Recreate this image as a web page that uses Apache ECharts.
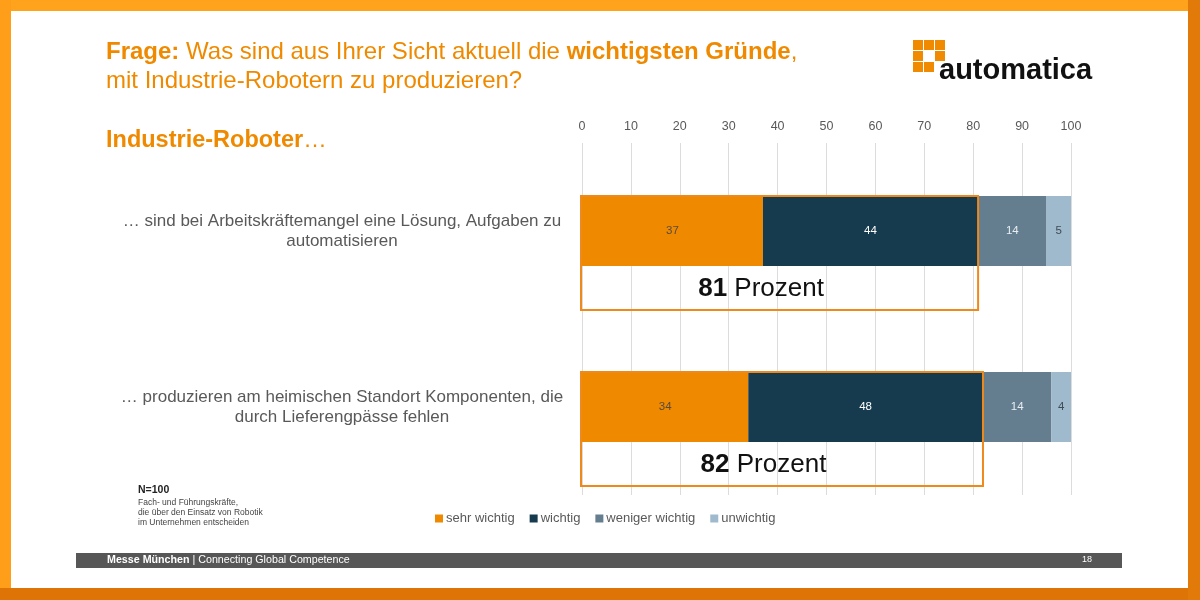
<!DOCTYPE html>
<html><head><meta charset="utf-8">
<script src="https://cdn.jsdelivr.net/npm/echarts@6/dist/echarts.min.js"></script>
<style>html,body{margin:0;padding:0;background:#fff}#c{width:1200px;height:600px}</style>
</head><body><div id="c"></div>
<script>
const categories = [
  '… sind bei Arbeitskräftemangel eine Lösung, Aufgaben zu\nautomatisieren',
  '… produzieren am heimischen Standort Komponenten, die\ndurch Lieferengpässe fehlen'
];
const seriesNames = ['sehr wichtig', 'wichtig', 'weniger wichtig', 'unwichtig'];
const sehrWichtig = [37, 34];
const wichtig = [44, 48];
const wenigerWichtig = [14, 14];
const unwichtig = [5, 4];
const topTwo = [81, 82];
const xTicks = [0, 10, 20, 30, 40, 50, 60, 70, 80, 90, 100];

const colors = ['#EF8A00', '#173B4E', '#647E8F', '#9FBACD'];
const labelColors = ['#5a4a3a', '#ffffff', '#e8eef2', '#3f4b55'];
const values = [sehrWichtig, wichtig, wenigerWichtig, unwichtig];
const FONT = '"Liberation Sans", Arial, sans-serif';

const chart = echarts.init(document.getElementById('c'), null, {renderer: 'canvas'});

const barSeries = seriesNames.map((n, i) => ({
  name: n, type: 'bar', stack: 'total', barWidth: 70,
  data: values[i],
  itemStyle: {color: colors[i]},
  label: {show: true, position: 'inside', color: labelColors[i], fontSize: 11.5, fontFamily: FONT},
  z: 2
}));

const boxSeries = {
  type: 'custom', name: 'box', z: 5,
  data: topTwo.map((v, i) => [v, i]),
  encode: {x: 0, y: 1},
  renderItem: function (params, api) {
    const total = api.value(0), idx = api.value(1);
    const p0 = api.coord([0, idx]);
    const p1 = api.coord([total, idx]);
    const barH = 70;
    const top = p0[1] - barH / 2;
    const h = barH + 44;
    return {
      type: 'group', children: [
        {type: 'rect', shape: {x: p0[0] - 1, y: top, width: p1[0] - p0[0] + 1, height: h},
          style: {fill: 'none', stroke: '#EE8A1C', lineWidth: 2}},
        {type: 'text', x: (p0[0] + p1[0]) / 2 - 19, y: p0[1] + barH / 2 + 23,
          style: {text: '{b|' + total + '} Prozent', align: 'center', verticalAlign: 'middle',
            fontSize: 26, fontFamily: FONT, fill: '#111',
            rich: {b: {fontSize: 26, fontWeight: 'bold', fontFamily: FONT, fill: '#111'}}}}
      ]
    };
  }
};

const option = {
  animation: false,
  backgroundColor: '#ffffff',
  color: colors,
  grid: {left: 582, right: 129, top: 143, bottom: 105, containLabel: false},
  xAxis: {
    type: 'value', position: 'top', min: 0, max: 100, interval: 10,
    axisLine: {show: false}, axisTick: {show: false},
    axisLabel: {color: '#595959', fontSize: 12.5, fontFamily: FONT, margin: 10,
      formatter: v => xTicks.includes(v) ? String(v) : ''},
    splitLine: {show: true, lineStyle: {color: '#DCDCDC', width: 1}}
  },
  yAxis: {
    type: 'category', inverse: true, data: categories,
    axisLine: {show: false}, axisTick: {show: false}, splitLine: {show: false},
    axisLabel: {align: 'center', margin: 240, color: '#595959', fontSize: 17, lineHeight: 20, fontFamily: FONT}
  },
  legend: {
    data: seriesNames, left: 430, top: 507, icon: 'rect', itemWidth: 8, itemHeight: 8, itemGap: 15,
    textStyle: {color: '#595959', fontSize: 13, fontFamily: FONT, padding: [0, 0, 0, -2]}
  },
  series: barSeries.concat([boxSeries]),
  graphic: [
    {type: 'rect', shape: {x: 0, y: 0, width: 1200, height: 11}, style: {fill: '#FFA21C'}, silent: true},
    {type: 'rect', shape: {x: 0, y: 0, width: 11, height: 600}, style: {fill: '#FF9E18'}, silent: true},
    {type: 'rect', shape: {x: 0, y: 588, width: 1200, height: 12}, style: {fill: '#DE7306'}, silent: true},
    {type: 'rect', shape: {x: 1188, y: 0, width: 12, height: 600}, style: {fill: '#E27A0A'}, silent: true},
    {type: 'text', left: 106, top: 38, style: {
      text: '{b|Frage:} Was sind aus Ihrer Sicht aktuell die {b|wichtigsten Gründe},\nmit Industrie-Robotern zu produzieren?',
      fontSize: 24, lineHeight: 29, fontFamily: FONT, fill: '#EF8A00',
      rich: {b: {fontSize: 24, fontWeight: 'bold', fontFamily: FONT, fill: '#EF8A00'}}}},
    {type: 'text', left: 106, top: 129, style: {
      text: '{b|Industrie-Roboter}…', fontSize: 23.5, fontFamily: FONT, fill: '#EF8A00',
      rich: {b: {fontSize: 23.5, fontWeight: 'bold', fontFamily: FONT, fill: '#EF8A00'}}}},
    {type: 'group', left: 913, top: 40, children: [
      {type: 'rect', shape: {x: 0, y: 0, width: 10, height: 10}, style: {fill: '#F08A00'}},
      {type: 'rect', shape: {x: 11, y: 0, width: 10, height: 10}, style: {fill: '#F08A00'}},
      {type: 'rect', shape: {x: 22, y: 0, width: 10, height: 10}, style: {fill: '#F08A00'}},
      {type: 'rect', shape: {x: 0, y: 11, width: 10, height: 10}, style: {fill: '#F08A00'}},
      {type: 'rect', shape: {x: 22, y: 11, width: 10, height: 10}, style: {fill: '#F08A00'}},
      {type: 'rect', shape: {x: 0, y: 22, width: 10, height: 10}, style: {fill: '#F08A00'}},
      {type: 'rect', shape: {x: 11, y: 22, width: 10, height: 10}, style: {fill: '#F08A00'}}
    ]},
    {type: 'text', left: 939, top: 56, style: {text: 'automatica', fontSize: 29, fontWeight: 'bold', fontFamily: FONT, fill: '#111'}},
    {type: 'text', left: 138, top: 485, style: {text: 'N=100', fontSize: 10.5, fontWeight: 'bold', fontFamily: FONT, fill: '#222'}},
    {type: 'text', left: 138, top: 498, style: {text: 'Fach- und Führungskräfte,\ndie über den Einsatz von Robotik\nim Unternehmen entscheiden', fontSize: 8.5, lineHeight: 10, fontFamily: FONT, fill: '#444'}},
    {type: 'rect', shape: {x: 76, y: 553, width: 1046, height: 15}, style: {fill: '#575757'}, silent: true},
    {type: 'text', left: 107, top: 555, style: {text: '{b|Messe München} | Connecting Global Competence', fontSize: 10.7, fontFamily: FONT, fill: '#fff',
      rich: {b: {fontSize: 10.7, fontWeight: 'bold', fontFamily: FONT, fill: '#fff'}}}},
    {type: 'text', left: 1082, top: 555.5, style: {text: '18', fontSize: 9, fontFamily: FONT, fill: '#fff'}}
  ]
};
chart.setOption(option);
</script></body></html>
